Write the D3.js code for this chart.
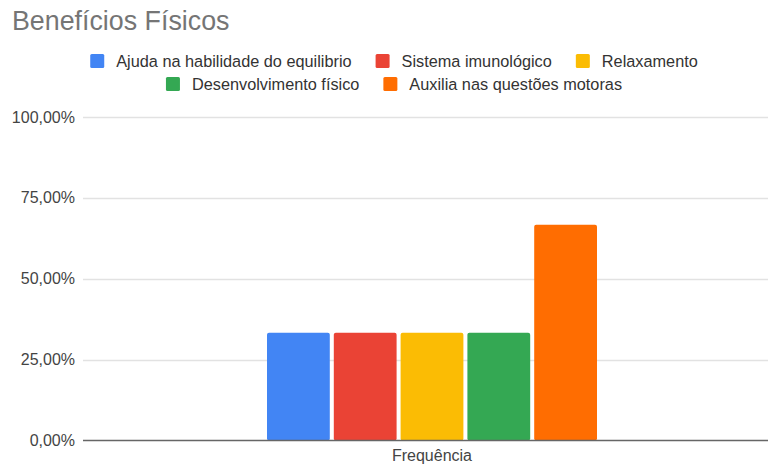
<!DOCTYPE html>
<html>
<head>
<meta charset="utf-8">
<script src="https://cdn.jsdelivr.net/npm/d3@7"></script>
<style>
  html, body { margin: 0; padding: 0; background: #fff; }
  svg { display: block; font-family: "Liberation Sans", Arial, sans-serif; }
</style>
</head>
<body>
<svg id="chart" width="768" height="466"></svg>
<script>
// Chart data
const title = "Benefícios Físicos";
const category = "Frequência";
const seriesNames = [
  "Ajuda na habilidade do equilibrio",
  "Sistema imunológico",
  "Relaxamento",
  "Desenvolvimento físico",
  "Auxilia nas questões motoras"
];
const seriesValues = [0.3333, 0.3333, 0.3333, 0.3333, 0.6667];
const seriesColors = ["#4285F4", "#EA4335", "#FBBC04", "#34A853", "#FF6D01"];
const yTicks = [0, 0.25, 0.5, 0.75, 1];
const legendRows = [[0, 1, 2], [3, 4]];

const svg = d3.select("#chart");
const W = 768, H = 466;
const plot = { left: 83, right: 781, top: 117, bottom: 440.5 };

const y = d3.scaleLinear().domain([0, 1]).range([plot.bottom, plot.top]);
const x0 = d3.scaleBand().domain([category]).range([plot.left, plot.right])
  .paddingInner(0).paddingOuter(0.5576);
const x1 = d3.scaleBand().domain(seriesNames).range([0, x0.bandwidth()])
  .paddingInner(0.06).paddingOuter(0);

const fmt = v => d3.format(".2f")(v * 100).replace(".", ",") + "%";

// Title
svg.append("text")
  .attr("x", 12).attr("y", 30)
  .attr("font-size", 26.8).attr("fill", "#757575")
  .text(title);

// Gridlines and y labels
const yAxis = svg.append("g");
yAxis.selectAll("line.grid").data(yTicks.filter(t => t > 0)).join("line")
  .attr("class", "grid")
  .attr("x1", plot.left).attr("x2", W)
  .attr("y1", d => Math.round(y(d)) + 0.5).attr("y2", d => Math.round(y(d)) + 0.5)
  .attr("stroke", "#e2e2e2").attr("stroke-width", 1.5);
yAxis.selectAll("text").data(yTicks).join("text")
  .attr("x", 75).attr("y", d => y(d))
  .attr("dy", "0.35em")
  .attr("text-anchor", "end")
  .attr("font-size", 16).attr("fill", "#444")
  .text(fmt);

// Bars
const group = svg.append("g").attr("transform", `translate(${x0(category)},0)`);
group.selectAll("rect").data(seriesNames).join("rect")
  .attr("x", (d) => x1(d))
  .attr("width", x1.bandwidth())
  .attr("y", (d, i) => y(seriesValues[i]))
  .attr("height", (d, i) => y(0) - y(seriesValues[i]))
  .attr("rx", 2)
  .attr("fill", (d, i) => seriesColors[i]);

// Baseline
svg.append("line")
  .attr("x1", plot.left).attr("x2", W)
  .attr("y1", y(0)).attr("y2", y(0))
  .attr("stroke", "#666").attr("stroke-width", 1.5);

// Category label
svg.append("text")
  .attr("x", x0(category) + x0.bandwidth() / 2).attr("y", 461)
  .attr("text-anchor", "middle")
  .attr("font-size", 16).attr("fill", "#444")
  .text(category);

// Legend, two centered rows
const legendCenter = 394;
const rowY = [61, 84];
const sw = 14, textGap = 12, itemGap = 24;
legendRows.forEach((row, r) => {
  const g = svg.append("g");
  let cx = 0;
  row.forEach(i => {
    const item = g.append("g").attr("transform", `translate(${cx},0)`);
    item.append("rect")
      .attr("x", 0).attr("y", rowY[r] - sw / 2)
      .attr("width", sw).attr("height", sw).attr("rx", 1.5)
      .attr("fill", seriesColors[i]);
    const t = item.append("text")
      .attr("x", sw + textGap).attr("y", rowY[r])
      .attr("dy", "0.35em")
      .attr("font-size", 16.3).attr("fill", "#333")
      .text(seriesNames[i]);
    cx += sw + textGap + t.node().getComputedTextLength() + itemGap;
  });
  const total = cx - itemGap;
  g.attr("transform", `translate(${legendCenter - total / 2},0)`);
});
</script>
</body>
</html>
